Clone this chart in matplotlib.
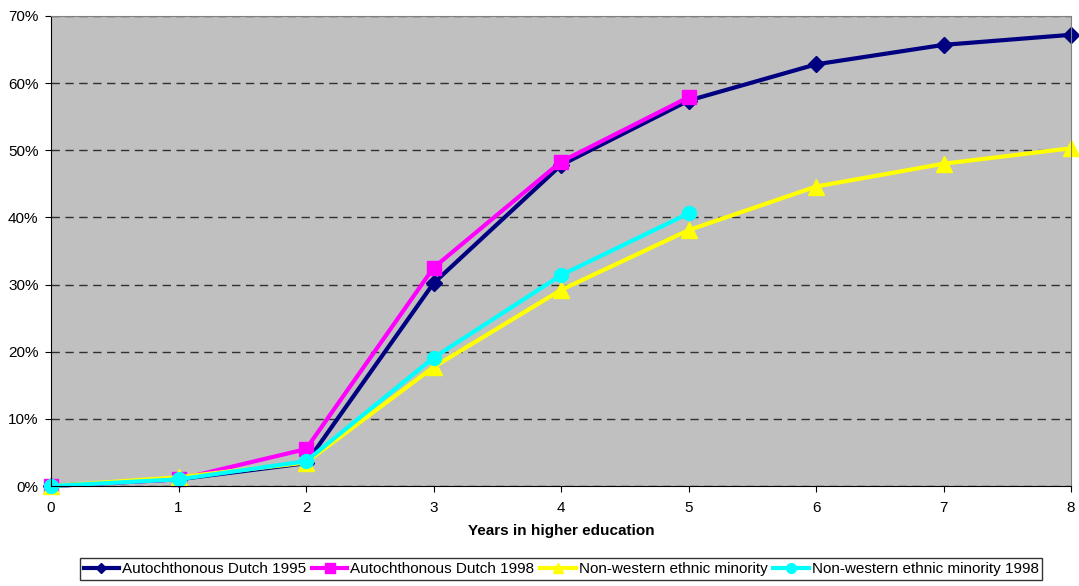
import matplotlib
matplotlib.use('Agg')
import matplotlib.pyplot as plt
from matplotlib.ticker import PercentFormatter

plt.rcParams['font.family'] = ['Liberation Sans', 'DejaVu Sans']

years = [0, 1, 2, 3, 4, 5, 6, 7, 8]
dutch_1995 = [0.0, 1.0, 3.4, 30.2, 47.8, 57.4, 62.8, 65.7, 67.2]
dutch_1998 = [0.0, 1.0, 5.5, 32.5, 48.3, 57.9]
nonwestern = [0.0, 1.3, 3.5, 17.7, 29.2, 38.1, 44.6, 48.0, 50.3]
nonwestern_1998 = [0.0, 1.0, 3.7, 19.1, 31.4, 40.6]

fig = plt.figure(figsize=(10.79, 5.86), dpi=100)
ax = fig.add_axes([0.0473, 0.1706, 0.9453, 0.8021])
ax.set_facecolor('#c0c0c0')

ax.plot(years, dutch_1995, '-D', color='#000080', lw=3, ms=8, label='Autochthonous Dutch 1995')
ax.plot(years[:6], dutch_1998, '-s', color='#ff00ff', lw=3, ms=10, label='Autochthonous Dutch 1998')
ax.plot(years, nonwestern, '-^', color='#ffff00', lw=3, ms=11, label='Non-western ethnic minority')
ax.plot(years[:6], nonwestern_1998, '-o', color='#00ffff', lw=3, ms=10, label='Non-western ethnic minority 1998')

ax.set_xlim(0, 8)
ax.set_ylim(0, 70)
ax.set_xticks(years)
ax.set_yticks(range(0, 71, 10))
ax.yaxis.set_major_formatter(PercentFormatter(decimals=0))
ax.grid(axis='y', color='#303030', ls=(0, (6, 4)), lw=1)
ax.set_axisbelow(True)
ax.tick_params(labelsize=11, direction='out', length=4)
ax.tick_params(axis='x', pad=7)
ax.tick_params(axis='y', pad=5)
for s in ['top', 'right']:
    ax.spines[s].set_color('#808080')
ax.set_xlabel('Years in higher education', fontsize=11, fontweight='bold', labelpad=6)
for line in ax.get_lines():
    line.set_clip_on(False)

fig.legend(loc='center', bbox_to_anchor=(0.52, 0.029), ncol=4, fontsize=11,
           frameon=True, fancybox=False, edgecolor='black', handlelength=2.3,
           handletextpad=0.2, columnspacing=0.4, borderpad=0.25, markerscale=0.7)

fig.savefig('out.png', dpi=100)
